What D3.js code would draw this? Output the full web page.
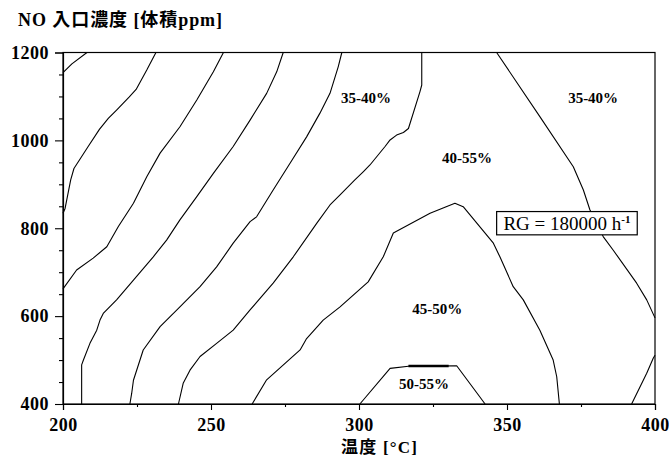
<!DOCTYPE html>
<html>
<head>
<meta charset="utf-8">
<script src="https://cdn.jsdelivr.net/npm/d3@7"></script>
<style>
  body { margin: 0; background: #fff; }
  text { font-family: "Liberation Serif", "Noto Sans CJK JP", serif; fill: #000; }
</style>
</head>
<body>
<svg id="chart" width="669" height="457"></svg>
<script>
// temperature [C] vs NO inlet concentration [ppm], contour lines
var x_ticks = [200, 250, 300, 350, 400];
var x_minor = [225, 275, 325, 375];
var y_ticks = [400, 600, 800, 1000, 1200];
var y_minor = [450, 500, 550, 650, 700, 750, 850, 900, 950, 1050, 1100, 1150];

var iso_1 = [[200, 1154], [203, 1174], [208.1, 1200]];
var iso_2 = [[231.4, 1200], [228.3, 1160], [224.7, 1116], [222.4, 1099], [218.1, 1069], [215.3, 1050],
  [212.3, 1025], [208.5, 986], [203.7, 936], [202.6, 910], [200.7, 845], [200, 834]];
var iso_3 = [[254.2, 1200], [250.8, 1156], [245.2, 1092], [239.5, 1031], [232.8, 971], [228.3, 917],
  [223.8, 857], [218.7, 804], [214.8, 758], [210.2, 732], [204.6, 705], [200, 662]];
var iso_4 = [[274.4, 1200], [272.2, 1156], [268.8, 1107], [263.2, 1046], [257.5, 986], [250.8, 925],
  [245.2, 872], [239.5, 819], [235, 773], [230.5, 735], [223.8, 682], [218.1, 637], [213.6, 606],
  [212.5, 591], [211.4, 568], [209.1, 538], [206.9, 500], [206.3, 489], [206.3, 400]];
var iso_5 = [[294.2, 1200], [293, 1168], [290.2, 1107], [286.8, 1062], [282.3, 1008], [276.7, 948],
  [271, 887], [265.4, 826], [263.2, 815], [257.5, 766], [251.9, 712], [246.3, 667], [239.5, 621],
  [232.8, 576], [227.1, 523], [223.8, 454], [223.2, 424], [222.6, 400]];
var iso_6 = [[321.2, 1200], [321.2, 1126], [320.6, 1111], [316.7, 1027], [315, 1018], [312.7, 1012],
  [310.5, 1001], [308.8, 986], [303.7, 944], [301.5, 929], [298.6, 910], [293.6, 876], [290.2, 853],
  [285.7, 811], [277.8, 735], [271, 675], [263.2, 614], [257.5, 568], [251.9, 538], [246.3, 508],
  [242.9, 477], [240.6, 447], [239, 400]];
var iso_7 = [[346.5, 1200], [361.1, 1054], [372.4, 940], [375.8, 887], [378, 842], [382.5, 781],
  [385.9, 750], [393.8, 675], [397.2, 637], [400, 596]];
var iso_8 = [[400, 511], [399.4, 504], [397.2, 470], [392.1, 400]];
var iso_9 = [[367.7, 400], [366.8, 462], [365.6, 500], [361.1, 568], [355.5, 637], [352.1, 667],
  [347.6, 735], [345.4, 766], [335.2, 849], [332.4, 857], [324, 834], [311.6, 789], [308.2, 735],
  [303.1, 678], [293.6, 621], [287.9, 591], [282.3, 549], [280.1, 523], [268.8, 455], [263.9, 400]];
var iso_10 = [[300.3, 400], [310.5, 481], [316.7, 486], [333, 487], [342.6, 400]];
var iso_10_heavy = [[316.7, 486.5], [330.3, 486.5]];

var contours = [iso_1, iso_2, iso_3, iso_4, iso_5, iso_6, iso_7, iso_8, iso_9, iso_10];

var region_labels = ["35-40%", "35-40%", "40-55%", "45-50%", "50-55%"];
var region_x = [302.4, 379.1, 336.5, 326.4, 322];
var region_y = [1096, 1096, 960, 616, 445];

var svg = d3.select('#chart');
var m_left = 63, m_right = 655, m_top = 52.5, m_bottom = 404;

var x = d3.scaleLinear().domain([200, 400]).range([m_left, m_right]);
var y = d3.scaleLinear().domain([400, 1200]).range([m_bottom, m_top]);

var line = d3.line()
  .x(function (d) { return x(d[0]); })
  .y(function (d) { return y(d[1]); });

// frame
svg.append('rect')
  .attr('x', m_left).attr('y', m_top)
  .attr('width', m_right - m_left).attr('height', m_bottom - m_top)
  .attr('fill', 'none').attr('stroke', '#000').attr('stroke-width', 1.2);

// axes
var xaxis = svg.append('g').attr('transform', 'translate(0,' + m_bottom + ')')
  .call(d3.axisBottom(x).tickValues(x_ticks).tickSize(6).tickPadding(8).tickFormat(d3.format('d')));
var yaxis = svg.append('g').attr('transform', 'translate(' + m_left + ',0)')
  .call(d3.axisLeft(y).tickValues(y_ticks).tickSize(8).tickPadding(6).tickFormat(d3.format('d')));

svg.append('g').attr('transform', 'translate(0,' + m_bottom + ')')
  .call(d3.axisBottom(x).tickValues(x_minor).tickSize(3).tickFormat(''))
  .select('.domain').remove();
svg.append('g').attr('transform', 'translate(' + m_left + ',0)')
  .call(d3.axisLeft(y).tickValues(y_minor).tickSize(4).tickFormat(''))
  .select('.domain').remove();

svg.selectAll('.domain').attr('stroke-width', 1.2);
svg.selectAll('.tick line').attr('stroke-width', 1.1);
[xaxis, yaxis].forEach(function (g) {
  g.selectAll('text')
    .style('font-family', '"Liberation Serif", serif')
    .style('font-size', '18px')
    .style('font-weight', 'bold')
    .style('letter-spacing', '0.5px');
});

// contour lines
svg.append('g').selectAll('path').data(contours).enter()
  .append('path')
  .attr('d', line)
  .attr('fill', 'none')
  .attr('stroke', '#000')
  .attr('stroke-width', 1.1)
  .attr('stroke-linejoin', 'round');

svg.append('path').attr('d', line(iso_10_heavy))
  .attr('fill', 'none').attr('stroke', '#000').attr('stroke-width', 2.4);

// region labels
svg.append('g').selectAll('text').data(region_labels).enter()
  .append('text')
  .attr('x', function (d, i) { return x(region_x[i]); })
  .attr('y', function (d, i) { return y(region_y[i]); })
  .attr('dy', '0.35em')
  .attr('text-anchor', 'middle')
  .style('font-size', '15px')
  .style('font-weight', 'bold')
  .text(function (d) { return d; });

// space velocity box
var bx0 = x(346.5), bx1 = x(394), by0 = y(838), by1 = y(785);
svg.append('rect')
  .attr('x', bx0).attr('y', by0)
  .attr('width', bx1 - bx0).attr('height', by1 - by0)
  .attr('fill', '#fff').attr('stroke', '#000').attr('stroke-width', 1.2);
var rg = svg.append('text')
  .attr('x', (bx0 + bx1) / 2).attr('y', by1 - 5)
  .attr('text-anchor', 'middle')
  .style('font-size', '19px');
rg.append('tspan').text('RG = 180000 h');
rg.append('tspan').attr('dy', '-7').style('font-size', '11px').style('font-weight', 'bold').text('-1');

// titles
svg.append('text')
  .attr('x', 18).attr('y', 26)
  .attr('textLength', 204)
  .attr('lengthAdjust', 'spacing')
  .style('font-size', '18px')
  .style('font-weight', 'bold')
  .text('NO 入口濃度 [体積ppm]');

svg.append('text')
  .attr('x', 379).attr('y', 453)
  .attr('text-anchor', 'middle')
  .attr('textLength', 76)
  .attr('lengthAdjust', 'spacing')
  .style('font-size', '17px')
  .style('font-weight', 'bold')
  .text('温度 [°C]');
</script>
</body>
</html>
